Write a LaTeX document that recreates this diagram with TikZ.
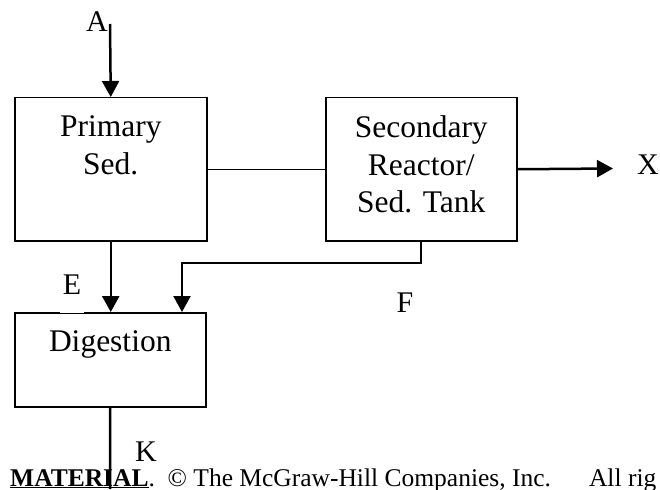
\documentclass[tikz,border=0pt]{standalone}
\usepackage{fontspec}
\setmainfont{Liberation Serif}
\usetikzlibrary{positioning,arrows.meta}
\begin{document}
\begin{tikzpicture}[
  x=1pt, y=-1pt,
  caja/.style={draw=black, line width=1.5pt, rectangle, inner sep=0pt, anchor=north west},
  rotulo/.style={font=\fontsize{31.5}{37.5}\selectfont, align=center, inner sep=0pt},
  etiqueta/.style={font=\fontsize{30}{36}\selectfont, inner sep=0pt, anchor=base},
  flecha/.style={line width=2.5pt, -{Triangle[length=16pt, width=17pt]}},
  linea/.style={line width=1.3pt}
]
\useasboundingbox (0,0) rectangle (660,489);
\node[caja, minimum width=192pt, minimum height=143pt] (primario) at (14,97) {};
\node[caja, minimum width=191pt, minimum height=143pt] (secundario) at (325,97) {};
\node[caja, minimum width=191pt, minimum height=94pt] (digestion) at (14,312) {};
\node[rotulo, below=18.5pt of primario.north] (tprimario) {Primary\\Sed.};
\node[rotulo, below=18.5pt of secundario.north] (tsecundario) {Secondary\\Reactor/\\Sed. Tank};
\node[rotulo, below=18.5pt of digestion.north] (tdigestion) {Digestion};
\coordinate (entrada) at (110,24);
\coordinate (salida) at (613,168.5);
\coordinate (codo) at (182,263);
\coordinate (fondo) at (110,489);
\draw[flecha] (entrada) -- (primario.north);
\draw[linea] (primario.east) -- (secundario.west);
\draw[flecha] (secundario.east) -- (salida);
\draw[flecha] (primario.south) -- (primario.south |- digestion.north);
\draw[flecha, line width=2.2pt] (secundario.south) |- (codo) -- (codo |- digestion.north);
\node[etiqueta] (A) at (97,32) {A};
\node[etiqueta] (X) at (648,175) {X};
\node[etiqueta] (F) at (405,312) {F};
\node[etiqueta] (K) at (146,461) {K};
\node[etiqueta, fill=white, inner xsep=3pt, text depth=19pt] (E) at (72,294) {E};
\node[anchor=base west, inner sep=0pt, font=\fontsize{25.5}{29}\selectfont] (pie) at (10,486) {\underline{\textbf{MATERIAL}}.\ \ © The McGraw-Hill Companies, Inc.\hspace{38pt}All rig};
\draw[line width=2.5pt] (digestion.south) -- (fondo);
\end{tikzpicture}
\end{document}
